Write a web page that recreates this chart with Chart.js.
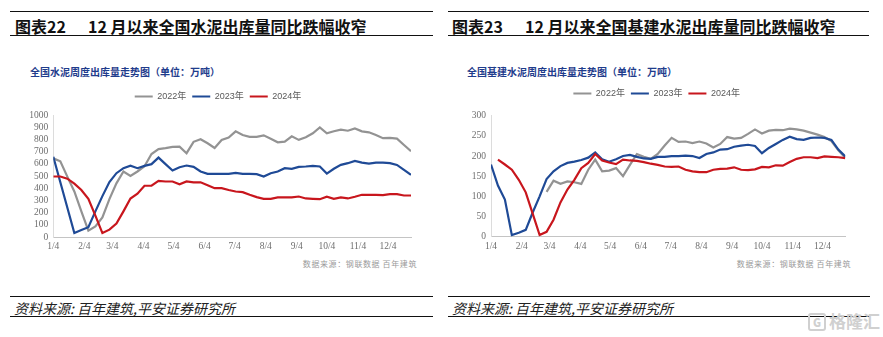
<!DOCTYPE html>
<html>
<head>
<meta charset="utf-8">
<script src="https://cdn.jsdelivr.net/npm/chart.js@4.4.1/dist/chart.umd.min.js"></script>
<style>
body{margin:0;background:#fff;width:883px;height:337px;position:relative;overflow:hidden;font-family:"Noto Sans CJK SC","Noto Sans",sans-serif}
.rule{position:absolute;height:0;border-top:1.5px solid #111}
.head{position:absolute;top:16px;line-height:20px;font-weight:bold;font-size:16px;color:#111;white-space:nowrap}
.head .no{display:inline-block;width:73px}
.sub{position:absolute;top:66px;line-height:12px;font-size:10px;font-weight:bold;color:#1f3c8c;white-space:nowrap}
.note{position:absolute;top:259px;line-height:10px;font-size:8px;color:#9a9a9a;letter-spacing:0.6px;white-space:nowrap}
.src{position:absolute;top:300px;line-height:16px;font-size:14px;font-style:italic;color:#222;white-space:nowrap}
.mark{position:absolute;left:808px;top:311px;line-height:20px;font-size:17px;font-weight:bold;color:#d0d0d0;white-space:nowrap}
.mark b{display:inline-block;width:14px;height:14px;border:2px solid #d0d0d0;border-radius:3px;font-size:11px;line-height:14px;text-align:center;vertical-align:1px;margin-right:3px}
canvas{position:absolute}
</style>
</head>
<body>

<div class="rule" style="left:10px;top:11px;width:423px"></div>
<div class="head" style="left:15px"><span class="no">图表22</span>12 月以来全国水泥出库量同比跌幅收窄</div>
<div class="rule" style="left:10px;top:35px;width:423px"></div>
<div class="sub" style="left:30px">全国水泥周度出库量走势图（单位：万吨）</div>
<canvas id="totalChart" width="420" height="169" style="left:0;top:86px"></canvas>
<div class="note" style="right:466px">数据来源：钢联数据 百年建筑</div>
<div class="rule" style="left:10px;top:296px;width:423px"></div>
<div class="src" style="left:14px">资料来源: 百年建筑,平安证券研究所</div>
<div class="rule" style="left:10px;top:316px;width:423px"></div>

<div class="rule" style="left:448px;top:11px;width:421px"></div>
<div class="head" style="left:452px"><span class="no">图表23</span>12 月以来全国基建水泥出库量同比跌幅收窄</div>
<div class="rule" style="left:448px;top:35px;width:421px"></div>
<div class="sub" style="left:467px">全国基建水泥周度出库量走势图（单位：万吨）</div>
<canvas id="infraChart" width="420" height="172" style="left:441px;top:83px"></canvas>
<div class="note" style="right:32px">数据来源：钢联数据 百年建筑</div>
<div class="rule" style="left:448px;top:296px;width:422px"></div>
<div class="src" style="left:452px">资料来源: 百年建筑,平安证券研究所</div>
<div class="rule" style="left:448px;top:316px;width:422px"></div>
<div class="mark"><b>G</b>格隆汇</div>

<script>
// 每周一个数据点，按日期放在横轴上
var weeks = ['1/4','1/11','1/18','1/25','2/1','2/8','2/15','2/22','3/1','3/8','3/15','3/22','3/29',
  '4/5','4/12','4/19','4/26','5/3','5/10','5/17','5/24','5/31','6/7','6/14','6/21','6/28',
  '7/5','7/12','7/19','7/26','8/2','8/9','8/16','8/23','8/30','9/6','9/13','9/20','9/27',
  '10/4','10/11','10/18','10/25','11/1','11/8','11/15','11/22','11/29','12/6','12/13','12/20','12/27'];
var monthTicks = ['1/4','2/4','3/4','4/4','5/4','6/4','7/4','8/4','9/4','10/4','11/4','12/4'];
var years = ['2022年','2023年','2024年'];
var totalYTicks = [0,100,200,300,400,500,600,700,800,900,1000];
var infraYTicks = [0,50,100,150,200,250,300];

// 全国水泥周度出库量（万吨）
var total2022 = [645,620,495,373,210,52,87,160,310,440,537,500,537,580,680,720,728,738,740,687,780,801,768,730,
  795,815,866,836,821,821,833,805,776,781,825,796,817,850,898,850,867,880,871,890,866,858,836,810,812,806,754,703];
var total2023 = [658,null,null,33,57,80,210,335,450,523,564,585,564,583,597,651,597,545,572,586,575,537,518,518,
  518,518,526,518,518,515,496,523,537,564,559,575,578,583,578,520,559,591,605,624,610,602,610,610,605,591,550,510];
var total2024 = [496,496,478,437,385,313,175,32,60,110,210,315,355,420,420,460,455,455,432,455,448,448,425,400,
  400,385,373,368,346,327,312,312,324,324,325,332,316,313,310,330,313,324,316,330,346,346,345,343,351,351,340,340];

// 全国基建水泥周度出库量（万吨）
var infra2022 = [null,null,null,null,null,null,null,null,111,139,131,137,135,131,166,191,162,164,170,150,178,205,198,193,
  205,226,245,235,236,232,236,231,221,230,247,243,245,255,266,256,263,265,264,268,266,263,258,253,247,237,214,196];
var infra2023 = [179,127,92,4,10,17,60,100,143,162,175,183,186,190,196,209,192,186,192,200,203,198,194,193,
  198,198,200,200,201,200,195,205,209,216,217,223,226,228,225,207,220,230,240,248,242,240,245,246,245,240,216,199];
var infra2024 = [null,191,179,166,141,110,57,4,12,42,85,117,141,170,183,205,189,184,180,191,189,188,185,181,
  178,174,173,174,166,162,160,160,166,168,169,172,166,165,167,173,172,177,176,185,193,197,197,195,199,198,197,195];

var lineColors = ['#939393', '#1f4a96', '#c8161d'];
var monthStart = [0,31,59,90,120,151,181,212,243,273,304,334];

function dayOfYear(md){
  var p = md.split('/');
  return monthStart[p[0]-1] + Number(p[1]) - 1;
}

// 给图例下方留出空隙
function legendGap(px){
  return {
    id: 'legendGap',
    beforeInit: function(chart){
      var fit = chart.legend.fit;
      chart.legend.fit = function(){
        fit.call(this);
        this.height += px;
      };
    }
  };
}

function makeChart(id, series, yTicks, geo){
  var datasets = series.map(function(values, i){
    return {
      label: years[i],
      data: weeks.map(function(w, k){ return {x: dayOfYear(w), y: values[k]}; }),
      borderColor: lineColors[i],
      backgroundColor: lineColors[i],
      borderWidth: 2.2,
      pointRadius: 0,
      tension: 0,
      spanGaps: true,
      order: 3 - i
    };
  });

  return new Chart(document.getElementById(id), {
    type: 'line',
    data: { datasets: datasets },
    options: {
      responsive: false,
      animation: false,
      layout: { padding: { left: geo.padLeft, right: geo.padRight, top: 0, bottom: 0 } },
      plugins: {
        tooltip: { enabled: false },
        legend: {
          labels: {
            boxWidth: 18,
            boxHeight: 2,
            padding: 6,
            color: '#595959',
            font: { size: 9, family: '"Liberation Sans","Noto Sans CJK SC"' },
            sort: function(a, b){ return a.datasetIndex - b.datasetIndex; },
            generateLabels: function(chart){
              return Chart.defaults.plugins.legend.labels.generateLabels(chart).map(function(item){
                item.lineWidth = 0;
                return item;
              });
            }
          }
        }
      },
      scales: {
        x: {
          type: 'linear',
          min: dayOfYear(weeks[0]),
          max: dayOfYear(weeks[weeks.length - 1]),
          grid: { display: false, drawTicks: false },
          border: { color: '#c4c4c4' },
          afterBuildTicks: function(scale){
            scale.ticks = monthTicks.map(function(m){ return { value: dayOfYear(m) }; });
          },
          afterFit: function(scale){ scale.height = geo.xHeight; },
          ticks: {
            autoSkip: false,
            maxRotation: 0,
            padding: 4,
            color: '#6e6e6e',
            font: { size: 9.5, family: '"Liberation Serif"' },
            callback: function(v, i){ return monthTicks[i]; }
          }
        },
        y: {
          min: yTicks[0],
          max: yTicks[yTicks.length - 1],
          grid: { display: false, drawTicks: false },
          border: { color: '#dcdcdc' },
          afterBuildTicks: function(scale){
            scale.ticks = yTicks.map(function(v){ return { value: v }; });
          },
          afterFit: function(scale){ scale.width = geo.yWidth; },
          ticks: {
            autoSkip: false,
            padding: 5,
            color: '#6e6e6e',
            font: { size: 9.5, family: '"Liberation Serif"' },
            callback: function(v){ return String(v); }
          }
        }
      }
    },
    plugins: [legendGap(geo.legendGap)]
  });
}

makeChart('totalChart', [total2022, total2023, total2024], totalYTicks,
  { padLeft: 25, padRight: 9, yWidth: 28.3, xHeight: 18, legendGap: 4 });
makeChart('infraChart', [infra2022, infra2023, infra2024], infraYTicks,
  { padLeft: 27, padRight: 15.7, yWidth: 23, xHeight: 18.3, legendGap: 7.7 });
</script>
</body>
</html>
